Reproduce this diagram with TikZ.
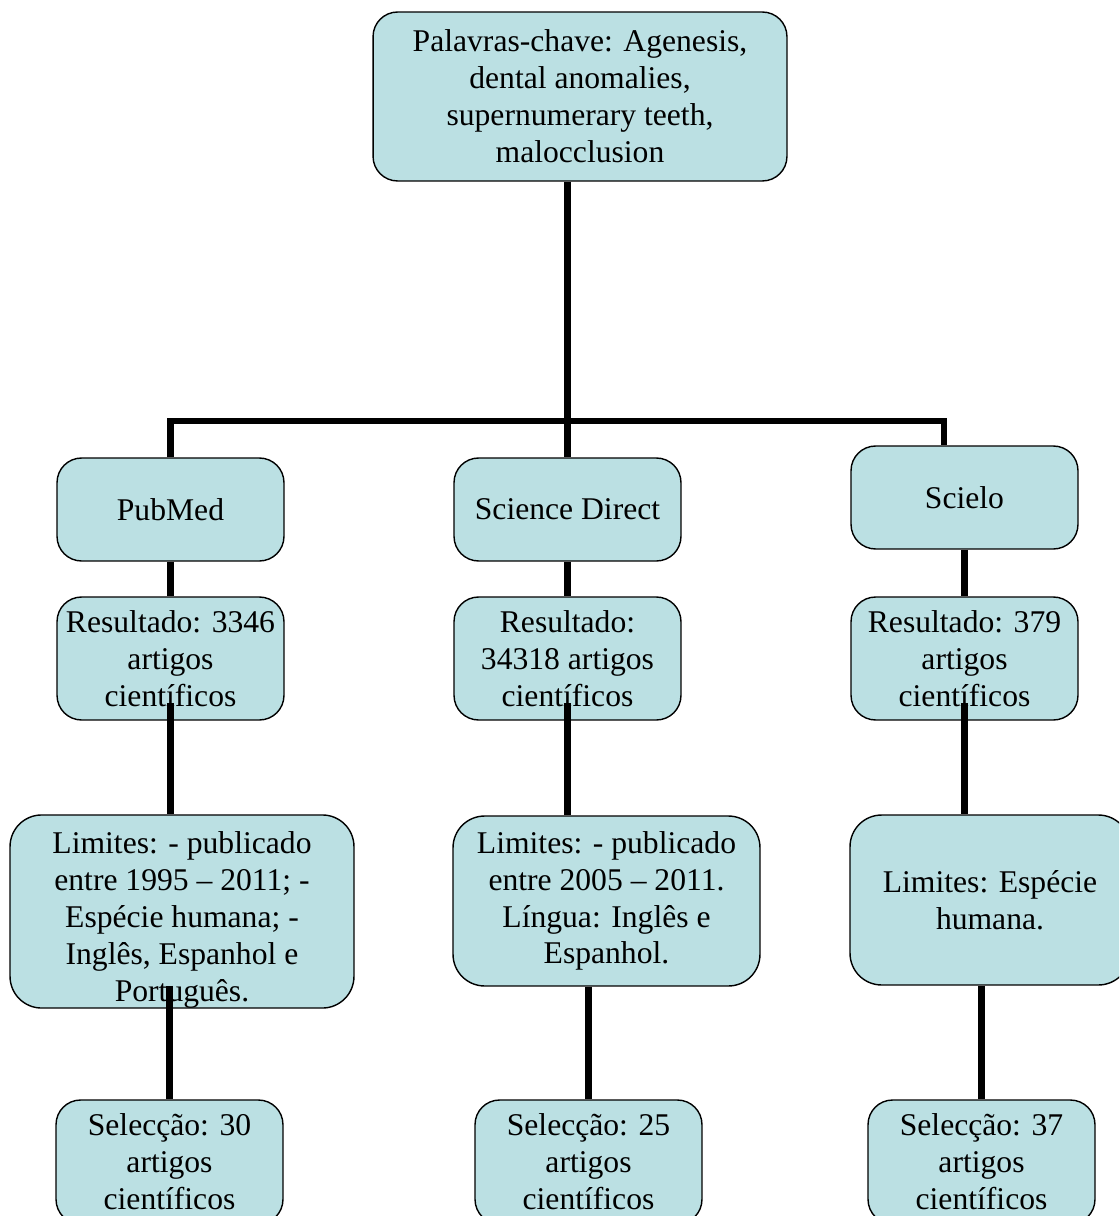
\documentclass[tikz,border=0pt]{standalone}
\usepackage{fontspec}
\setmainfont{Liberation Serif}
\definecolor{caixafill}{RGB}{187,224,227}
\tikzset{
  caixa/.style={draw=black, line width=0.8pt, fill=caixafill, rounded corners=14pt,
    align=center, inner sep=0pt, font=\fontsize{18}{21}\selectfont},
  base/.style={caixa, minimum width=4.54cm, minimum height=2.06cm},
  resultado/.style={caixa, minimum width=4.54cm, minimum height=2.46cm},
  limites/.style={caixa, rounded corners=18pt},
  ligacao/.style={line width=3.7pt},
}
\begin{document}
\begin{tikzpicture}[x=0.02cm, y=-0.02cm]
  \clip (0,0) rectangle (1119,1216);

  \node[caixa, minimum width=8.28cm, minimum height=3.38cm] (chave) at (580,96.5)
    {Palavras-chave: Agenesis,\\ dental anomalies,\\ supernumerary teeth,\\ malocclusion};

  % Bases de dados
  \node[base] (pub) at (170.5,509.5) {PubMed};
  \node[base] (sd)  at (567.5,509.5) {Science Direct};
  \node[base] (sci) at (964.5,497.5) {Scielo};

  \node[resultado] (res1) at (170.5,658.5) {Resultado: 3346\\ artigos\\ científicos};
  \node[resultado] (res2) at (567.5,658.5) {Resultado:\\ 34318 artigos\\ científicos};
  \node[resultado] (res3) at (964.5,658.5) {Resultado: 379\\ artigos\\ científicos};

  % Limites
  \node[limites, minimum width=6.88cm, minimum height=3.86cm] (lim1) at (182,911.5)
    {\rule{0pt}{22pt}Limites: - publicado\\ entre 1995 -- 2011; -\\ Espécie humana; -\\ Inglês, Espanhol e\\ Português.};
  \node[limites, minimum width=6.14cm, minimum height=3.40cm] (lim2) at (606.5,901)
    {Limites: - publicado\\ entre 2005 -- 2011.\\ Língua: Inglês e\\ Espanhol.};
  \node[limites, minimum width=5.60cm, minimum height=3.40cm] (lim3) at (990,900)
    {Limites: Espécie\\ humana.};

  \node[resultado, minimum height=2.48cm] (sel1) at (169.5,1162) {Selecção: 30\\ artigos\\ científicos};
  \node[resultado, minimum height=2.48cm] (sel2) at (588.5,1162) {Selecção: 25\\ artigos\\ científicos};
  \node[resultado, minimum height=2.48cm] (sel3) at (981.5,1162) {Selecção: 37\\ artigos\\ científicos};

  % Ligacoes
  \coordinate (barraD) at (944,421);
  \draw[ligacao] (sd.north |- chave.south) -- (sd.north);
  \draw[ligacao] (pub.north) |- (barraD) -- (barraD |- sci.north);

  \draw[ligacao] (pub.south) -- (res1.north);
  \draw[ligacao] (sd.south) -- (res2.north);
  \draw[ligacao] (sci.south) -- (res3.north);

  \draw[ligacao] ([yshift=10pt]res1.south) -- (res1.south |- lim1.north);
  \draw[ligacao] ([yshift=10pt]res2.south) -- (res2.south |- lim2.north);
  \draw[ligacao] ([yshift=10pt]res3.south) -- (res3.south |- lim3.north);

  \draw[ligacao] ([yshift=13pt]sel1.north |- lim1.south) -- (sel1.north);
  \draw[ligacao] (sel2.north |- lim2.south) -- (sel2.north);
  \draw[ligacao] (sel3.north |- lim3.south) -- (sel3.north);

\end{tikzpicture}
\end{document}
